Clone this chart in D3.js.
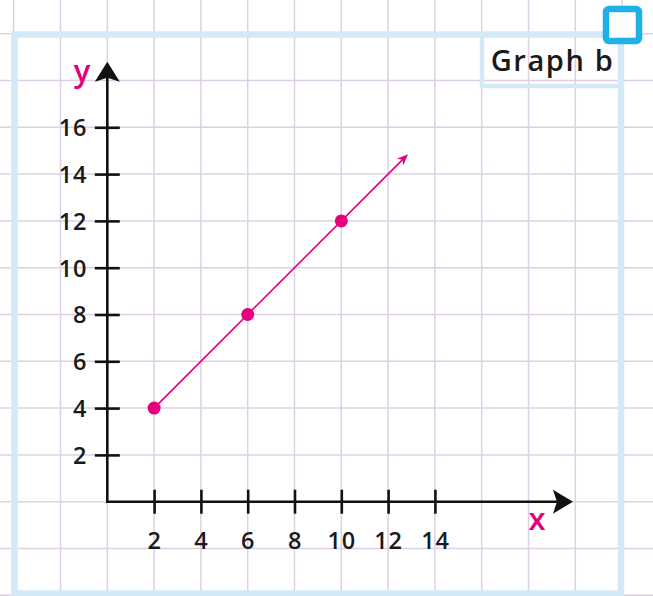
<!DOCTYPE html>
<html><head><meta charset="utf-8">
<script src="https://cdn.jsdelivr.net/npm/d3@7"></script>
<style>html,body{margin:0;padding:0;background:#fff;}svg{display:block;}</style>
</head><body>
<script>
// Data
const xValues = [2, 6, 10];
const yValues = [4, 8, 12];
const arrowEnd = [12.85, 14.85];
const xTicks = [2, 4, 6, 8, 10, 12, 14];
const yTicks = [2, 4, 6, 8, 10, 12, 14, 16];
const title = "Graph b";
const xLabel = "x", yLabel = "y";

const W = 653, H = 596;
const unit = 23.4;
const ox = 107.3, oy = 501.7;
const x = d3.scaleLinear().domain([0, 20]).range([ox, ox + 20 * unit]);
const y = d3.scaleLinear().domain([0, 20]).range([oy, oy - 20 * unit]);

const magenta = "#e4007c", gridC = "#ddd0e6", frameC = "#d3e9f8", blueC = "#1db1e7";
const font = "'Open Sans', 'Noto Sans', sans-serif";

const svg = d3.select("body").append("svg").attr("width", W).attr("height", H);

// grid
const gridX = d3.range(-4, 25, 2), gridY = d3.range(-4, 25, 2);
svg.append("g").selectAll("line").data(gridX).join("line")
  .attr("x1", d => x(d)).attr("x2", d => x(d)).attr("y1", 0).attr("y2", H)
  .attr("stroke", gridC).attr("stroke-width", 1.5);
svg.append("g").selectAll("line").data(gridY).join("line")
  .attr("y1", d => y(d)).attr("y2", d => y(d)).attr("x1", 0).attr("x2", W)
  .attr("stroke", gridC).attr("stroke-width", 1.5);

// frame
svg.append("rect").attr("x", 14.5).attr("y", 34.5).attr("width", 606.5).attr("height", 559)
  .attr("fill", "none").attr("stroke", frameC).attr("stroke-width", 6.5);
// title box
svg.append("rect").attr("x", 482).attr("y", 35).attr("width", 139).attr("height", 51)
  .attr("fill", "none").attr("stroke", frameC).attr("stroke-width", 4.5);
svg.append("text").attr("x", 552.5).attr("y", 71).attr("text-anchor", "middle")
  .attr("font-family", font).attr("font-weight", 600).attr("font-size", 29)
  .attr("letter-spacing", 1.6)
  .attr("fill", "#1a1a1a").text(title);
// blue square
svg.append("rect").attr("x", 606).attr("y", 9).attr("width", 33).attr("height", 32).attr("rx", 3)
  .attr("fill", "#fff").attr("stroke", blueC).attr("stroke-width", 6.5);

// axes
const axisG = svg.append("g");
const tickFont = sel => sel.attr("font-family", font).attr("font-weight", 600)
  .attr("font-size", 23.5).attr("letter-spacing", 0.8).attr("fill", "#1a1a1a");
const yAxis = axisG.append("g").attr("transform", `translate(${ox},0)`)
  .call(d3.axisLeft(y).tickValues(yTicks).tickSize(12).tickPadding(20));
yAxis.select(".domain").remove();
yAxis.selectAll(".tick line").attr("x1", -12.5).attr("x2", 12.5).attr("stroke", "#111").attr("stroke-width", 2.6);
yAxis.selectAll(".tick text").attr("x", -20).attr("dy", "0.36em").call(tickFont);

const xAxis = axisG.append("g").attr("transform", `translate(0,${oy})`)
  .call(d3.axisBottom(x).tickValues(xTicks).tickSize(12).tickPadding(20));
xAxis.select(".domain").remove();
xAxis.selectAll(".tick line").attr("y1", -12).attr("y2", 12).attr("stroke", "#111").attr("stroke-width", 2.6);
xAxis.selectAll(".tick text").attr("y", 47).attr("dy", 0).call(tickFont);

// axis lines
const yTop = y(18.8), xRight = x(19.9);
axisG.append("line").attr("x1", ox).attr("x2", ox).attr("y1", oy + 1.3).attr("y2", yTop + 8)
  .attr("stroke", "#111").attr("stroke-width", 2.6);
axisG.append("line").attr("x1", ox - 1.3).attr("x2", xRight - 8).attr("y1", oy).attr("y2", oy)
  .attr("stroke", "#111").attr("stroke-width", 2.6);
axisG.append("path").attr("d", `M${ox},${yTop} L${ox - 12.5},${yTop + 20} L${ox},${yTop + 16} L${ox + 12.5},${yTop + 20} Z`)
  .attr("fill", "#111");
axisG.append("path").attr("d", `M${xRight},${oy} L${xRight - 20},${oy - 12} L${xRight - 16},${oy} L${xRight - 20},${oy + 12} Z`)
  .attr("fill", "#111");

// axis names
svg.append("text").attr("x", 82).attr("y", 82).attr("text-anchor", "middle")
  .attr("font-family", font).attr("font-weight", 600).attr("font-size", 31).attr("fill", magenta).text(yLabel);
svg.append("text").attr("x", 537).attr("y", 530).attr("text-anchor", "middle")
  .attr("font-family", font).attr("font-weight", 600).attr("font-size", 31).attr("fill", magenta).text(xLabel);

// data line with arrow
const pts = xValues.map((v, i) => [v, yValues[i]]);
const ax = x(arrowEnd[0]), ay = y(arrowEnd[1]);
const x0 = x(pts[0][0]), y0 = y(pts[0][1]);
const ang = Math.atan2(ay - y0, ax - x0);
const back = 8;
svg.append("line").attr("x1", x0).attr("y1", y0)
  .attr("x2", ax - back * Math.cos(ang)).attr("y2", ay - back * Math.sin(ang))
  .attr("stroke", magenta).attr("stroke-width", 1.6);
const hl = 11, hw = 4.5, notch = 8;
const bx = ax - hl * Math.cos(ang), by = ay - hl * Math.sin(ang);
const nx = ax - notch * Math.cos(ang), ny = ay - notch * Math.sin(ang);
const px = -Math.sin(ang), py = Math.cos(ang);
svg.append("path")
  .attr("d", `M${ax},${ay} L${bx + px * hw},${by + py * hw} L${nx},${ny} L${bx - px * hw},${by - py * hw} Z`)
  .attr("fill", magenta);
svg.append("g").selectAll("circle").data(pts).join("circle")
  .attr("cx", d => x(d[0])).attr("cy", d => y(d[1])).attr("r", 6.5).attr("fill", magenta);
</script>
</body></html>
